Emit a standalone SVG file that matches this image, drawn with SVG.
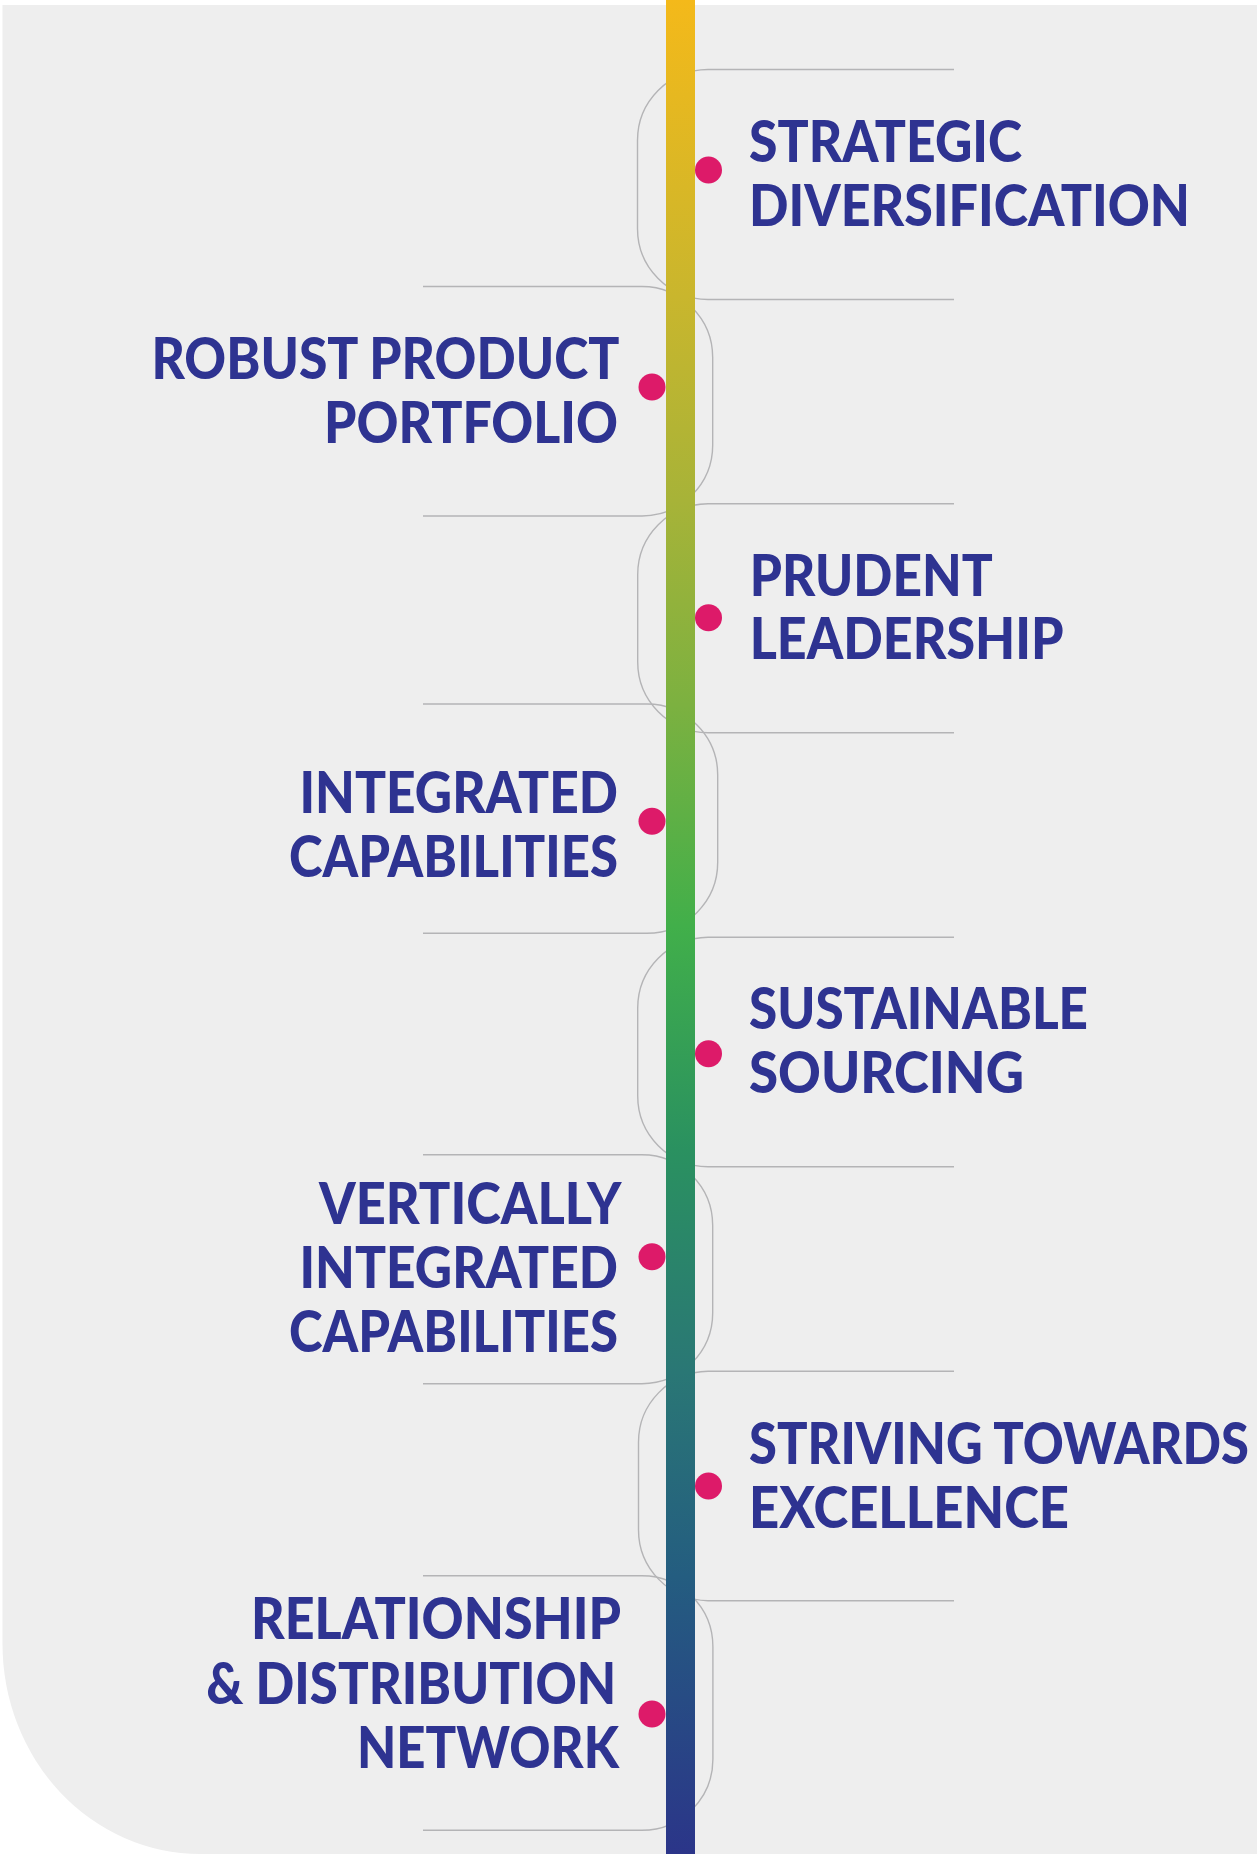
<svg xmlns="http://www.w3.org/2000/svg" width="1257" height="1854" viewBox="0 0 1257 1854">
<defs>
<linearGradient id="barGrad" x1="0" y1="0" x2="0" y2="1854" gradientUnits="userSpaceOnUse">
<stop offset="0" stop-color="#f4b91a"/>
<stop offset="0.16" stop-color="#c9b62d"/>
<stop offset="0.27" stop-color="#a7b338"/>
<stop offset="0.38" stop-color="#7cb140"/>
<stop offset="0.5" stop-color="#41af4a"/>
<stop offset="0.62" stop-color="#2a9160"/>
<stop offset="0.74" stop-color="#2a7775"/>
<stop offset="0.85" stop-color="#245d80"/>
<stop offset="1" stop-color="#2b3589"/>
</linearGradient>
<style>
.conn{fill:none;stroke:#b4b4b6;stroke-width:1.4}
.dot{fill:#dd1a69}
.lbl{font-family:"Lato","Roboto","Liberation Sans",sans-serif;font-weight:900;font-size:57px;fill:#2e3391}
</style>
</defs>
<rect x="0" y="0" width="1257" height="1854" fill="#ffffff"/>
<path id="background" d="M2.5,5 H1257 V1854 H200 A197.5,210 0 0 1 2.5,1644 Z" fill="#eeeeee"/>
<g id="connectors">
<path class="conn" d="M954,69.5 H708 A71,71 0 0 0 637.5,140.5 V228.5 A71,71 0 0 0 708,299.5 H954"/>
<path class="conn" d="M423,286.5 H642 A71,71 0 0 1 712.7,357.5 V445 A71,71 0 0 1 642,516 H423"/>
<path class="conn" d="M954,503.7 H708 A71,71 0 0 0 637.7,574.7 V661.7 A71,71 0 0 0 708,732.7 H954"/>
<path class="conn" d="M423,704 H647 A71,71 0 0 1 717.7,775 V862.3 A71,71 0 0 1 647,933.3 H423"/>
<path class="conn" d="M954,937.3 H708 A71,71 0 0 0 637.7,1008.3 V1095.7 A71,71 0 0 0 708,1166.7 H954"/>
<path class="conn" d="M423,1154.7 H642 A71,71 0 0 1 712.7,1225.7 V1312.7 A71,71 0 0 1 642,1383.7 H423"/>
<path class="conn" d="M954,1371.3 H708 A71,71 0 0 0 638.5,1442.3 V1529.7 A71,71 0 0 0 708,1600.7 H954"/>
<path class="conn" d="M423,1575.7 H642 A71,71 0 0 1 712.9,1646.7 V1759.3 A71,71 0 0 1 642,1830.3 H423"/>
</g>
<rect id="timeline" x="666" y="0" width="29" height="1854" fill="url(#barGrad)"/>
<g id="node-strategic-diversification">
<circle class="dot" cx="708.5" cy="170" r="13.5"/>
<text class="lbl" x="749" y="161.7" textLength="273" lengthAdjust="spacingAndGlyphs">STRATEGIC</text>
<text class="lbl" x="749" y="226" textLength="441" lengthAdjust="spacingAndGlyphs">DIVERSIFICATION</text>
</g>
<g id="node-robust-product-portfolio">
<circle class="dot" cx="652" cy="387" r="13.5"/>
<text class="lbl" x="151.4" y="379" textLength="468" lengthAdjust="spacingAndGlyphs">ROBUST PRODUCT</text>
<text class="lbl" x="324" y="443" textLength="294" lengthAdjust="spacingAndGlyphs">PORTFOLIO</text>
</g>
<g id="node-prudent-leadership">
<circle class="dot" cx="708.5" cy="617.7" r="13.5"/>
<text class="lbl" x="749.7" y="595.7" textLength="243" lengthAdjust="spacingAndGlyphs">PRUDENT</text>
<text class="lbl" x="749.7" y="659.3" textLength="314" lengthAdjust="spacingAndGlyphs">LEADERSHIP</text>
</g>
<g id="node-integrated-capabilities">
<circle class="dot" cx="652" cy="821.3" r="13.5"/>
<text class="lbl" x="299.5" y="812.7" textLength="318.5" lengthAdjust="spacingAndGlyphs">INTEGRATED</text>
<text class="lbl" x="289" y="876.7" textLength="329" lengthAdjust="spacingAndGlyphs">CAPABILITIES</text>
</g>
<g id="node-sustainable-sourcing">
<circle class="dot" cx="708.5" cy="1053.7" r="13.5"/>
<text class="lbl" x="749" y="1029.3" textLength="339" lengthAdjust="spacingAndGlyphs">SUSTAINABLE</text>
<text class="lbl" x="749" y="1093.3" textLength="275" lengthAdjust="spacingAndGlyphs">SOURCING</text>
</g>
<g id="node-vertically-integrated-capabilities">
<circle class="dot" cx="652" cy="1256.7" r="13.5"/>
<text class="lbl" x="319" y="1224" textLength="302.5" lengthAdjust="spacingAndGlyphs">VERTICALLY</text>
<text class="lbl" x="299.5" y="1287.7" textLength="318.5" lengthAdjust="spacingAndGlyphs">INTEGRATED</text>
<text class="lbl" x="289" y="1352.3" textLength="329" lengthAdjust="spacingAndGlyphs">CAPABILITIES</text>
</g>
<g id="node-striving-towards-excellence">
<circle class="dot" cx="708.5" cy="1486" r="13.5"/>
<text class="lbl" x="749" y="1464" textLength="500" lengthAdjust="spacingAndGlyphs">STRIVING TOWARDS</text>
<text class="lbl" x="749" y="1527.7" textLength="320" lengthAdjust="spacingAndGlyphs">EXCELLENCE</text>
</g>
<g id="node-relationship-distribution-network">
<circle class="dot" cx="652" cy="1714" r="13.5"/>
<text class="lbl" x="251" y="1639.3" textLength="370" lengthAdjust="spacingAndGlyphs">RELATIONSHIP</text>
<text class="lbl" x="206.3" y="1704" textLength="410" lengthAdjust="spacingAndGlyphs">&amp; DISTRIBUTION</text>
<text class="lbl" x="357" y="1767.7" textLength="262" lengthAdjust="spacingAndGlyphs">NETWORK</text>
</g>
</svg>
